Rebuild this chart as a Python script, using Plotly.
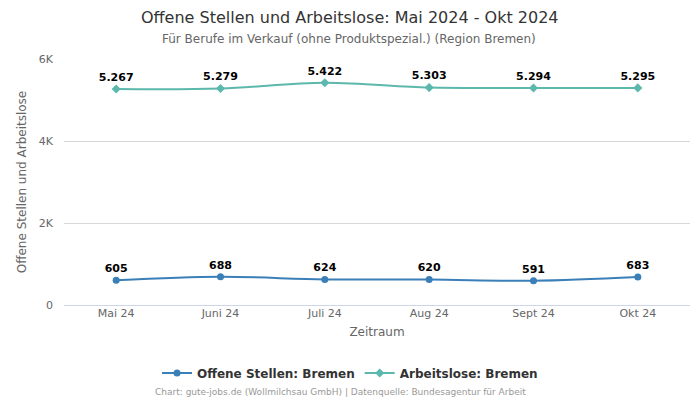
import plotly.graph_objects as go

months = ["Mai 24", "Juni 24", "Juli 24", "Aug 24", "Sept 24", "Okt 24"]
offene = [605, 688, 624, 620, 591, 683]
arbeitslose = [5267, 5279, 5422, 5303, 5294, 5295]
y_ticks = [0, 2000, 4000, 6000]
y_ticktext = ["0", "2K", "4K", "6K"]


def de_fmt(v):
    return f"{v:,}".replace(",", ".")


fig = go.Figure()
fig.add_trace(go.Scatter(
    x=months, y=offene, name="Offene Stellen: Bremen",
    mode="lines+markers+text", line=dict(color="#3a7fb8", width=2, shape="spline"),
    marker=dict(symbol="circle", size=7, color="#3a7fb8"),
    text=[de_fmt(v) for v in offene], textposition="top center",
    textfont=dict(family="DejaVu Sans", size=11, color="#000000", weight="bold"),
    cliponaxis=False,
))
fig.add_trace(go.Scatter(
    x=months, y=arbeitslose, name="Arbeitslose: Bremen",
    mode="lines+markers+text", line=dict(color="#5cb8ac", width=2, shape="spline"),
    marker=dict(symbol="diamond", size=7, color="#5cb8ac"),
    text=[de_fmt(v) for v in arbeitslose], textposition="top center",
    textfont=dict(family="DejaVu Sans", size=11, color="#000000", weight="bold"),
    cliponaxis=False,
))

# plot area: x 64..690, y 59..305 (pixels)
def px_x(p):
    return (p - 64) / 626


def px_y(p):
    return (305 - p) / 246


fig.update_layout(
    width=700, height=400,
    margin=dict(l=64, r=10, t=59, b=95),
    paper_bgcolor="white", plot_bgcolor="white",
    font=dict(family="DejaVu Sans", color="#666666", size=11),
    xaxis=dict(
        title=dict(text="Zeitraum", font=dict(size=12, color="#666666"), standoff=8),
        range=[-0.5, 5.5], showgrid=False, showline=False, ticks="",
        tickfont=dict(size=11, color="#666666"),
    ),
    yaxis=dict(
        title=dict(text="Offene Stellen und Arbeitslose", font=dict(size=12, color="#666666"), standoff=9),
        range=[0, 6000], tickvals=y_ticks, ticktext=y_ticktext,
        showgrid=True, gridcolor="#d8d8d8", gridwidth=1,
        zeroline=True, zerolinecolor="#ccd6eb", zerolinewidth=1,
        tickfont=dict(size=11, color="#666666"), ticklabelstandoff=10,
    ),
    legend=dict(
        orientation="h", x=px_x(350), xanchor="center", y=px_y(373), yanchor="middle",
        font=dict(size=12, color="#333333", weight="bold"), itemwidth=30,
    ),
    showlegend=True,
)

fig.add_annotation(
    text="Offene Stellen und Arbeitslose: Mai 2024 - Okt 2024",
    xref="paper", yref="paper", x=px_x(350), xanchor="center", y=px_y(17), yanchor="middle",
    showarrow=False, font=dict(size=16, color="#333333"),
)
fig.add_annotation(
    text="Für Berufe im Verkauf (ohne Produktspezial.) (Region Bremen)",
    xref="paper", yref="paper", x=px_x(349), xanchor="center", y=px_y(39), yanchor="middle",
    showarrow=False, font=dict(size=12, color="#666666"),
)
fig.add_annotation(
    text="Chart: gute-jobs.de (Wollmilchsau GmbH) | Datenquelle: Bundesagentur für Arbeit",
    xref="paper", yref="paper", x=px_x(340), xanchor="center", y=px_y(392), yanchor="middle",
    showarrow=False, font=dict(size=9, color="#999999"),
)

fig.write_html(
    "out.html",
    config={"displayModeBar": False},
    post_script="document.body.style.margin='0';document.body.style.overflow='hidden';",
)
